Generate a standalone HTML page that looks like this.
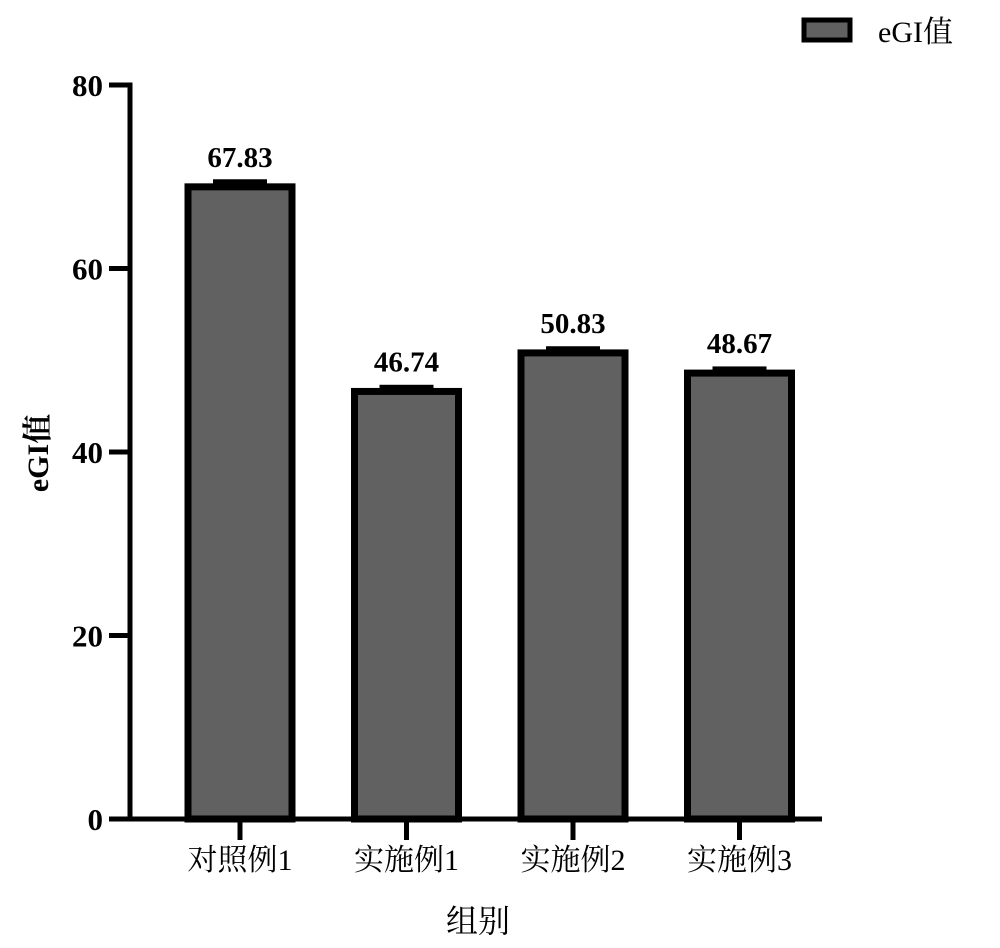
<!DOCTYPE html>
<html><head><meta charset="utf-8"><style>
body{margin:0;background:#fff;}
svg{display:block;font-family:"Liberation Serif","Noto Serif CJK SC",serif;}
</style></head><body>
<svg id="chart" width="1000" height="948">
<g>
<rect x="804" y="20" width="46" height="20" fill="#616161" stroke="#000" stroke-width="5"/>
<text x="878" y="42" font-size="30">eGI值</text>
</g>
<text transform="translate(48,453) rotate(-90)" text-anchor="middle" font-size="30" font-weight="bold">eGI值</text>
<text x="478" y="932" text-anchor="middle" font-size="32">组别</text>
<g id="plot"></g>
</svg>
<script>
const categories=["对照例1","实施例1","实施例2","实施例3"];
const barValues=[68.9,46.6,50.8,48.6];
const valueLabels=["67.83","46.74","50.83","48.67"];
const errors=[0.5,0.4,0.4,0.4];
const yTicks=[0,20,40,60,80];
const NS="http://www.w3.org/2000/svg";
const g=document.getElementById('plot');
const y0=819,yTop=85,yMax=80,x0=130;
const y=v=>y0-(y0-yTop)*v/yMax;
const xc=i=>240+i*166.5;
function mk(t,a,txt){const e=document.createElementNS(NS,t);for(const k in a)e.setAttribute(k,a[k]);if(txt!=null)e.textContent=txt;g.appendChild(e);return e;}
categories.forEach((c,i)=>{
 const cx=xc(i),w=104;
 const r=mk('rect',{x:cx-w/2,y:y(barValues[i]),width:w,height:y0-y(barValues[i]),fill:'#616161',stroke:'#000','stroke-width':7});
 
 
 const e=mk('rect',{x:cx-27,y:y(barValues[i]+errors[i])-3,width:54,height:6,fill:'#000'});
 
 
 const t=mk('text',{x:cx,y:y(barValues[i])-20,'text-anchor':'middle','font-size':29,'font-weight':'bold'},valueLabels[i]);
 
 
 const tk=mk('line',{x1:cx,x2:cx,y1:y0,y2:y0+21,stroke:'#000','stroke-width':5});
 
 
 const xl=mk('text',{x:cx,y:870,'text-anchor':'middle','font-size':30},c);
 
 
});
yTicks.forEach(v=>{
 const l=mk('line',{x1:x0-21,x2:x0,y1:y(v),y2:y(v),stroke:'#000','stroke-width':5});
 
 
 const t=mk('text',{x:x0-27,y:y(v)+11,'text-anchor':'end','font-size':31,'font-weight':'bold'},String(v));
 
 
});
const ya=mk('line',{x1:x0,x2:x0,y1:yTop-2.5,y2:y0+2.5,stroke:'#000','stroke-width':5});


const xa=mk('line',{x1:x0,x2:822,y1:y0,y2:y0,stroke:'#000','stroke-width':5});


</script>
</body></html>
